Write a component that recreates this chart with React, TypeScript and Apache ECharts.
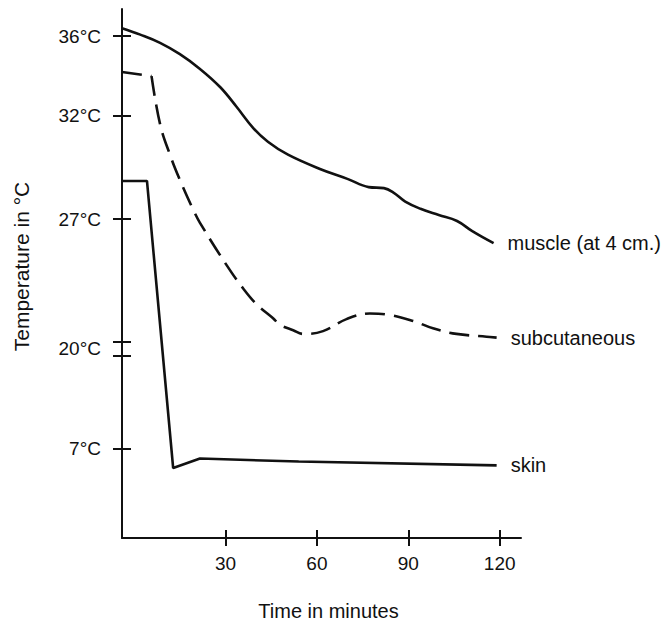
import React, { useEffect, useRef } from "react";
import * as echarts from "echarts";

// ---- data (minutes, °C) ----
const muscleMinutes = [-4, 2, 8.5, 15, 21.6, 28.2, 33.6, 39.1, 43.9, 50.5, 61, 70, 77, 82, 85, 89, 94, 100, 106, 111, 118];
const muscleTemps = [36.4, 36.08, 35.67, 35.1, 34.36, 33.45, 32.46, 31.41, 30.75, 30.12, 29.43, 28.95, 28.55, 28.5, 28.3, 27.85, 27.5, 27.2, 26.9, 26.35, 25.7];

const subcutaneousMinutes = [-4, 5.7, 8.5, 11.8, 15, 19.4, 21.6, 30.4, 35.8, 40.2, 45.6, 47.8, 52.2, 55.5, 62, 69.7, 77.4, 82.8, 91.6, 98.1, 105.8, 115.7, 119];
const subcutaneousTemps = [34.2, 34.0, 31.6, 30.1, 28.9, 27.45, 26.8, 24.5, 23.25, 22.4, 21.65, 21.3, 21.0, 20.8, 20.95, 21.6, 21.9, 21.85, 21.5, 21.1, 20.8, 20.65, 20.6];
// index of the sharp corner where the subcutaneous plateau ends
const subcutaneousCorner = 1;

const skinMinutes = [-4, 4.2, 12.8, 21.6, 54, 119];
const skinTemps = [28.85, 28.85, 4.45, 5.7, 5.3, 4.8];

const seriesNames = ["muscle (at 4 cm.)", "subcutaneous", "skin"];

const timeTicks = [30, 60, 90, 120];
const tempTicks = [7, 20, 27, 32, 36];
const breakTemp = 20;

// Broken temperature axis: anchor temperatures and where they sit on a linear internal axis
const scaleTemps = [7, 20, 27, 32, 36];
const scaleUnits = [91, 192.5, 324.3, 429.3, 510.3];
const unitMin = 0;
const unitMax = 538;
const breakHalfGap = 7.2;

function toUnit(t: number): number {
  const n = scaleTemps.length;
  let i = 0;
  if (t <= scaleTemps[0]) i = 0;
  else if (t >= scaleTemps[n - 1]) i = n - 2;
  else {
    while (t > scaleTemps[i + 1]) i++;
  }
  const t0 = scaleTemps[i];
  const t1 = scaleTemps[i + 1];
  const u0 = scaleUnits[i];
  const u1 = scaleUnits[i + 1];
  return u0 + ((t - t0) * (u1 - u0)) / (t1 - t0);
}

const FONT = '"Liberation Sans", Arial, Helvetica, sans-serif';
const INK = "#111111";

export default function App() {
  const ref = useRef<HTMLDivElement>(null);

  useEffect(() => {
    if (!ref.current) return;
    const chart = echarts.init(ref.current, undefined, { renderer: "svg" });

    const labelUnits = tempTicks.map(toUnit);
    const tickUnits: number[] = [];
    tempTicks.forEach((t) => {
      if (t === breakTemp) {
        tickUnits.push(toUnit(t) - breakHalfGap, toUnit(t) + breakHalfGap);
      } else {
        tickUnits.push(toUnit(t));
      }
    });
    const labelFor = (v: number) => {
      let best = tempTicks[0];
      let bd = Infinity;
      tempTicks.forEach((t) => {
        const d = Math.abs(toUnit(t) - v);
        if (d < bd) {
          bd = d;
          best = t;
        }
      });
      return best + "°C";
    };

    const axisLineStyle = { color: INK, width: 2 };
    const tickText = { fontFamily: FONT, fontSize: 19, color: INK };
    const nameText = { fontFamily: FONT, fontSize: 20, color: INK };

    const mk = (mins: number[], temps: number[]) => mins.map((m, i) => [m, toUnit(temps[i])]);
    const subData = mk(subcutaneousMinutes, subcutaneousTemps);
    const endLabel = {
      show: true,
      formatter: "{a}",
      distance: 14,
      ...nameText,
    };
    const dashed = { color: INK, width: 2.6, type: [20, 9] };

    const option: any = {
      animation: false,
      backgroundColor: "#ffffff",
      grid: { left: 122, right: 145, top: 9, bottom: 79, containLabel: false },
      xAxis: [
        {
          type: "value",
          position: "bottom",
          min: -4,
          max: 127,
          name: "Time in minutes",
          nameLocation: "middle",
          nameGap: 63,
          nameTextStyle: { ...nameText, padding: [0, 0, 0, 14] },
          axisLine: { show: true, onZero: false, lineStyle: axisLineStyle },
          axisTick: { show: true, inside: false, length: 8, customValues: timeTicks, lineStyle: axisLineStyle },
          axisLabel: { show: true, customValues: timeTicks, margin: 16, ...tickText },
          splitLine: { show: false },
        },
        {
          type: "value",
          position: "bottom",
          min: -4,
          max: 127,
          axisLine: { show: false, onZero: false },
          axisTick: { show: true, inside: true, length: 8, customValues: timeTicks, lineStyle: axisLineStyle },
          axisLabel: { show: false },
          splitLine: { show: false },
        },
      ],
      yAxis: [
        {
          type: "value",
          position: "left",
          min: unitMin,
          max: unitMax,
          name: "Temperature in °C",
          nameLocation: "middle",
          nameRotate: 90,
          nameGap: 90,
          nameTextStyle: { ...nameText, fontSize: 21, padding: [0, 0, 0, 14] },
          axisLine: { show: true, onZero: false, lineStyle: axisLineStyle },
          axisTick: { show: true, inside: false, length: 9, customValues: tickUnits, lineStyle: axisLineStyle },
          axisLabel: { show: true, customValues: labelUnits, margin: 21, formatter: labelFor, ...tickText },
          splitLine: { show: false },
        },
        {
          type: "value",
          position: "left",
          min: unitMin,
          max: unitMax,
          axisLine: { show: false, onZero: false },
          axisTick: { show: true, inside: true, length: 9, customValues: tickUnits, lineStyle: axisLineStyle },
          axisLabel: { show: false },
          splitLine: { show: false },
        },
      ],
      series: [
        {
          type: "line",
          name: seriesNames[0],
          data: mk(muscleMinutes, muscleTemps),
          symbol: "none",
          smooth: 0.4,
          silent: true,
          lineStyle: { color: INK, width: 2.6 },
          endLabel,
        },
        {
          // plateau before the sharp corner
          type: "line",
          name: seriesNames[1] + " plateau",
          data: subData.slice(0, subcutaneousCorner + 1),
          symbol: "none",
          smooth: false,
          silent: true,
          lineStyle: dashed,
        },
        {
          type: "line",
          name: seriesNames[1],
          data: subData.slice(subcutaneousCorner),
          symbol: "none",
          smooth: 0.4,
          silent: true,
          lineStyle: dashed,
          endLabel,
        },
        {
          type: "line",
          name: seriesNames[2],
          data: mk(skinMinutes, skinTemps),
          symbol: "none",
          smooth: false,
          silent: true,
          lineStyle: { color: INK, width: 2.6 },
          endLabel,
        },
      ],
    };

    chart.setOption(option);
    return () => chart.dispose();
  }, []);

  return (
    <div
      ref={ref}
      style={{ position: "fixed", left: 0, top: 0, width: 666, height: 626, background: "#fff" }}
    />
  );
}
